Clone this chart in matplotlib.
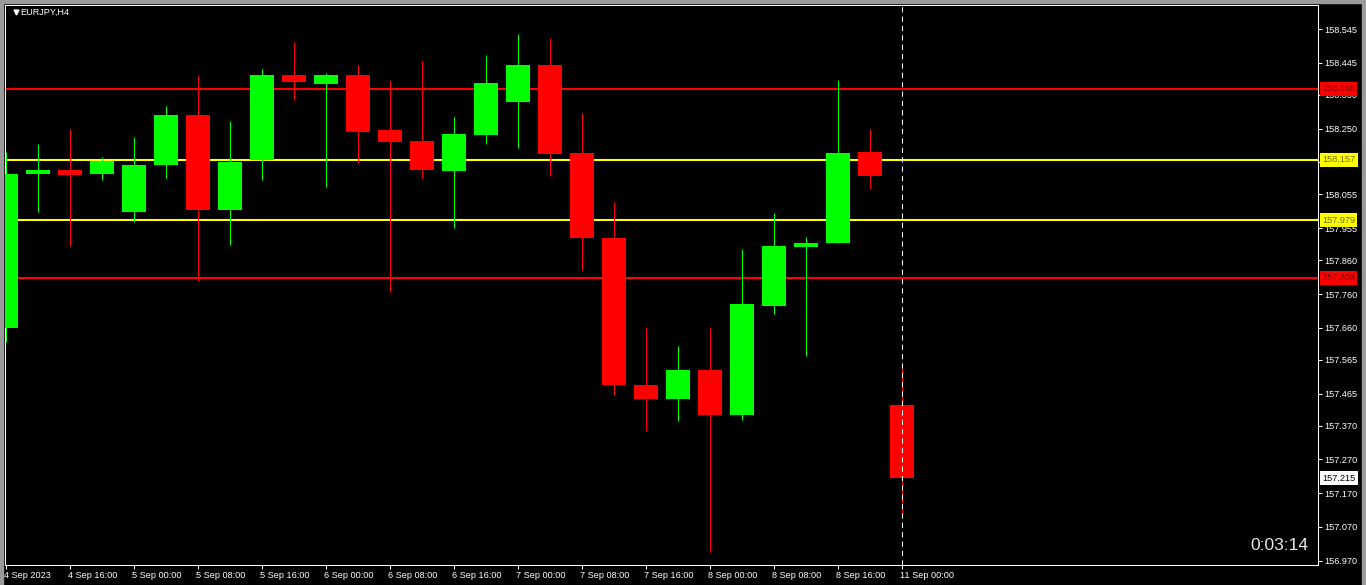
import matplotlib
matplotlib.use('Agg')
import matplotlib.pyplot as plt
from matplotlib.patches import Rectangle
from matplotlib.transforms import ScaledTranslation

plt.rcParams['font.family'] = ['Liberation Sans', 'DejaVu Sans']

# 4H candles, EURJPY, 4 Sep 08:00 .. 11 Sep 00:00
opens = [157.660, 158.116, 158.127, 158.116, 158.003, 158.142, 158.290, 158.009,
         158.157, 158.409, 158.382, 158.409, 158.246, 158.213, 158.124, 158.231,
         158.330, 158.438, 158.178, 157.926, 157.491, 157.450, 157.535, 157.402,
         157.725, 157.900, 157.912, 158.181, 157.431]
highs = [158.181, 158.204, 158.249, 158.166, 158.225, 158.317, 158.406, 158.272,
         158.427, 158.507, 158.415, 158.438, 158.394, 158.450, 158.284, 158.468,
         158.530, 158.518, 158.296, 158.033, 157.662, 157.606, 157.662, 157.893,
         158.000, 157.929, 158.394, 158.249, 157.553]
lows = [157.619, 158.004, 157.903, 158.098, 157.973, 158.104, 157.799, 157.905,
        158.098, 158.335, 158.078, 158.149, 157.767, 158.105, 157.956, 158.205,
        158.193, 158.111, 157.832, 157.461, 157.355, 157.385, 156.997, 157.388,
        157.702, 157.577, 157.912, 158.072, 157.102]
closes = [158.116, 158.127, 158.113, 158.154, 158.142, 158.290, 158.009, 158.151,
          158.409, 158.388, 158.409, 158.241, 158.211, 158.127, 158.234, 158.385,
          158.438, 158.176, 157.927, 157.491, 157.450, 157.535, 157.402, 157.730,
          157.902, 157.911, 158.178, 158.111, 157.215]

time_labels = ['4 Sep 2023', '4 Sep 16:00', '5 Sep 00:00', '5 Sep 08:00', '5 Sep 16:00',
               '6 Sep 00:00', '6 Sep 08:00', '6 Sep 16:00', '7 Sep 00:00', '7 Sep 08:00',
               '7 Sep 16:00', '8 Sep 00:00', '8 Sep 08:00', '8 Sep 16:00', '11 Sep 00:00']

price_ticks = [158.545, 158.445, 158.350, 158.250, 158.150, 158.055, 157.955, 157.860,
               157.760, 157.660, 157.565, 157.465, 157.370, 157.270, 157.170, 157.070, 156.970]

levels = [158.368, 158.157, 157.979, 157.808]
level_colors = ['#FF0000', '#FFFF00', '#FFFF00', '#FF0000']
level_text = ['#800000', '#6B6B00', '#6B6B00', '#800000']

current_price = 157.215
timer_text = '0:03:14'

W, H = 1366, 585
fig = plt.figure(figsize=(W / 100, H / 100), dpi=100, facecolor='black')
ax = fig.add_axes([5 / W, 20 / H, 1313 / W, 560 / H])
ax.set_facecolor('black')

n = len(opens)
xs = list(range(n))
up = [c >= o for o, c in zip(opens, closes)]
cols = ['#00FF00' if u else '#FF0000' for u in up]

# horizontal levels
for lv, lc in zip(levels, level_colors):
    ax.axhline(lv, color=lc, lw=1.5, zorder=1)

# wicks + bodies
ax.vlines(xs, lows, highs, colors=cols, lw=0.75, zorder=2)
bottoms = [min(o, c) for o, c in zip(opens, closes)]
heights = [max(abs(c - o), 0.003) for o, c in zip(opens, closes)]
ax.bar(xs, heights, bottom=bottoms, width=0.78, color=cols, linewidth=0, zorder=3)

# current bar marker
ax.axvline(n - 1, color='white', lw=0.75, ls=(0, (5, 4)), zorder=4)

ax.set_xlim(-0.031, 41.0)
ax.set_ylim(156.9573, 158.6161)

for s in ax.spines.values():
    s.set_color('white')
    s.set_linewidth(0.75)

# tick labels hidden behind a level box are left blank
def covered(v):
    return any(abs(v - lv) < 0.012 for lv in levels)

ax.yaxis.tick_right()
ax.set_yticks(price_ticks)
ax.set_yticklabels(['' if covered(v) else f'{v:.3f}' for v in price_ticks])
ax.set_xticks(xs[::2])
ax.set_xticklabels(time_labels)
ax.tick_params(colors='white', labelcolor='white', labelsize=6.6, length=3, width=0.75,
               direction='out')
ax.tick_params(axis='y', pad=1.5)
ax.tick_params(axis='x', pad=1.5)
for lab in ax.get_xticklabels():
    lab.set_ha('left')
    lab.set_transform(lab.get_transform() + ScaledTranslation(-2 / 100, 0, fig.dpi_scale_trans))

ytr = ax.get_yaxis_transform()
for lv, lc, tc in zip(levels, level_colors, level_text):
    ax.text(1.0032, lv, f'{lv:.3f}', transform=ytr, ha='left', va='center', fontsize=6.6,
            color=tc, clip_on=False, zorder=10,
            bbox=dict(boxstyle='square,pad=0.25', fc=lc, ec='none'))
ax.text(1.0032, current_price, f'{current_price:.3f}', transform=ytr, ha='left', va='center',
        fontsize=6.6, color='black', clip_on=False, zorder=10,
        bbox=dict(boxstyle='square,pad=0.25', fc='white', ec='none'))

# symbol header and countdown
ax.plot([11 / 1313], [1 - 7 / 560], marker='v', color='white', markersize=3.5, lw=0,
        transform=ax.transAxes, clip_on=False)
fig.text(20 / W, 1 - 12 / H, 'EURJPY,H4', color='white', fontsize=6.6, va='center', ha='left')
fig.text(1308 / W, 1 - 546 / H, timer_text, color='#E8E8E8', fontsize=12.5, va='center', ha='right')

# window edges
fig.patches.append(Rectangle((0, 0), 3 / W, 1, transform=fig.transFigure, color='#9A9A9A'))
fig.patches.append(Rectangle((0, 1 - 3 / H), 1, 3 / H, transform=fig.transFigure, color='#9A9A9A'))
fig.patches.append(Rectangle((1 - 4 / W, 0), 4 / W, 1, transform=fig.transFigure, color='#9A9A9A'))

fig.savefig('out.png', dpi=100, facecolor='black')
